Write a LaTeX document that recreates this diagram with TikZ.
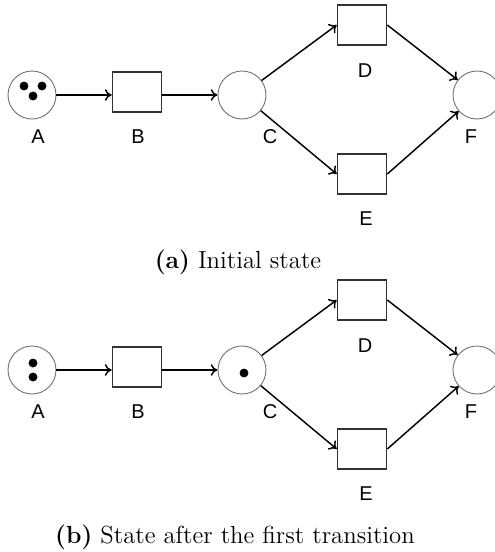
\documentclass[tikz,border=0pt]{standalone}
\usepackage{fontspec}
\newfontfamily\labelfont{Liberation Sans}
\usetikzlibrary{arrows.meta}
\begin{document}
\begin{tikzpicture}[x=0.55pt,y=-0.55pt,
  place/.style={circle,draw=black!55,line width=0.5pt,minimum size=26.4pt,inner sep=0pt},
  trans/.style={rectangle,draw=black!80,line width=0.9pt,minimum width=26.95pt,minimum height=22pt,inner sep=0pt},
  arc/.style={-{To[length=3.8pt,width=6.4pt]},line width=0.8pt},
  token/.style={circle,fill=black,minimum size=4.9pt,inner sep=0pt},
  lbl/.style={font=\labelfont\fontsize{11}{13}\selectfont,inner sep=0pt},
  captiontext/.style={font=\fontsize{13.6}{16}\selectfont,inner sep=0pt}]
\useasboundingbox (0,0) rectangle (495,552);

% ---- (a) initial marking ----
\node[place] (aA) at (32,95) {};
\node[trans] (aB) at (137,92) {};
\node[place] (aC) at (242,95) {};
\node[trans] (aD) at (362,25) {};
\node[trans] (aE) at (362,174) {};
\node[place] (aF) at (477,95) {};
\node[token] (aA1) at (24,86) {};
\node[token] (aA2) at (42,86) {};
\node[token] (aA3) at (33,96) {};
\node[lbl] (laA) at (38,137) {A};
\node[lbl] (laB) at (138,137) {B};
\node[lbl] (laC) at (270,137) {C};
\node[lbl] (laD) at (365,71) {D};
\node[lbl] (laE) at (366,219) {E};
\node[lbl] (laF) at (471,137) {F};
\draw[arc] (aA.east) -- (aB.west |- aA.east);
\draw[arc] (aB.east |- aA.east) -- (aC.west);
\draw[arc] (aC) -- (aD.west);
\draw[arc] (aC) -- (aE.west);
\draw[arc] (aD.east) -- (aF);
\draw[arc] (aE.east) -- (aF);
\node[captiontext] (capa) at (238,262) {\textbf{(a)} Initial state};

% ---- (b) after the first transition ----
\begin{scope}[shift={(0,275)}]
\node[place] (bA) at (32,95) {};
\node[trans] (bB) at (137,92) {};
\node[place] (bC) at (242,95) {};
\node[trans] (bD) at (362,25) {};
\node[trans] (bE) at (362,174) {};
\node[place] (bF) at (477,95) {};
\node[token] (bA1) at (33,88) {};
\node[token] (bA2) at (33,102) {};
\node[token] (bC1) at (244,98) {};
\node[lbl] (lbA) at (38,137) {A};
\node[lbl] (lbB) at (138,137) {B};
\node[lbl] (lbC) at (270,137) {C};
\node[lbl] (lbD) at (365,71) {D};
\node[lbl] (lbE) at (366,219) {E};
\node[lbl] (lbF) at (471,137) {F};
\draw[arc] (bA.east) -- (bB.west |- bA.east);
\draw[arc] (bB.east |- bA.east) -- (bC.west);
\draw[arc] (bC) -- (bD.west);
\draw[arc] (bC) -- (bE.west);
\draw[arc] (bD.east) -- (bF);
\draw[arc] (bE.east) -- (bF);
\node[captiontext] (capb) at (235,262) {\textbf{(b)} State after the first transition};
\end{scope}
\end{tikzpicture}
\end{document}
